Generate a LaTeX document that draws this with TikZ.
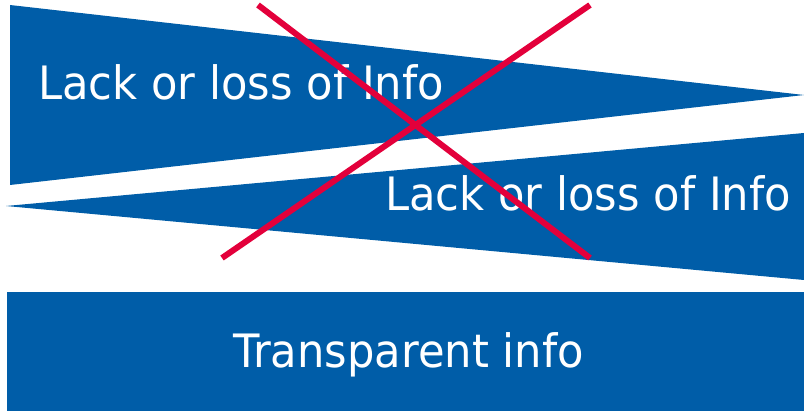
\documentclass[tikz,border=0pt]{standalone}
\usepackage{fontspec}
\setmainfont{DejaVu Sans}
\usepackage{tikz}
\definecolor{infoblue}{RGB}{0,93,168}
\definecolor{crossred}{RGB}{227,0,59}
\tikzset{
    wedge/.style={fill=infoblue, draw=none},
    infolabel/.style={text=white, font=\fontsize{23}{27}\selectfont, inner sep=0pt, xscale=0.94},
    cross/.style={draw=crossred, line width=3pt}
}

\begin{document}
\begin{tikzpicture}[x=0.5pt, y=-0.5pt]
        \useasboundingbox (0,0) rectangle (804,411);

        % wedges and bar
        \fill[wedge] (10,5) -- (804,95) -- (10,185) -- cycle;
        \fill[wedge] (6,206) -- (804,133) -- (804,280) -- cycle;
        \fill[wedge] (7,292) rectangle (804,411);

        \node[infolabel, anchor=base west] (lossTop) at (38,100) {Lack or loss of Info};
        \node[infolabel, anchor=base west] (lossBottom) at (385,211) {Lack or loss of Info};
        \node[infolabel, anchor=base] (transparent) at (408.5,368) {Transparent info};

        % the cross
        \coordinate (c1) at (258,5);
        \coordinate (c2) at (590,258);
        \coordinate (c3) at (590,5);
        \coordinate (c4) at (222,258);
        \draw[cross] (c1) -- (c2);
        \draw[cross] (c3) -- (c4);
    \end{tikzpicture}
\end{document}
